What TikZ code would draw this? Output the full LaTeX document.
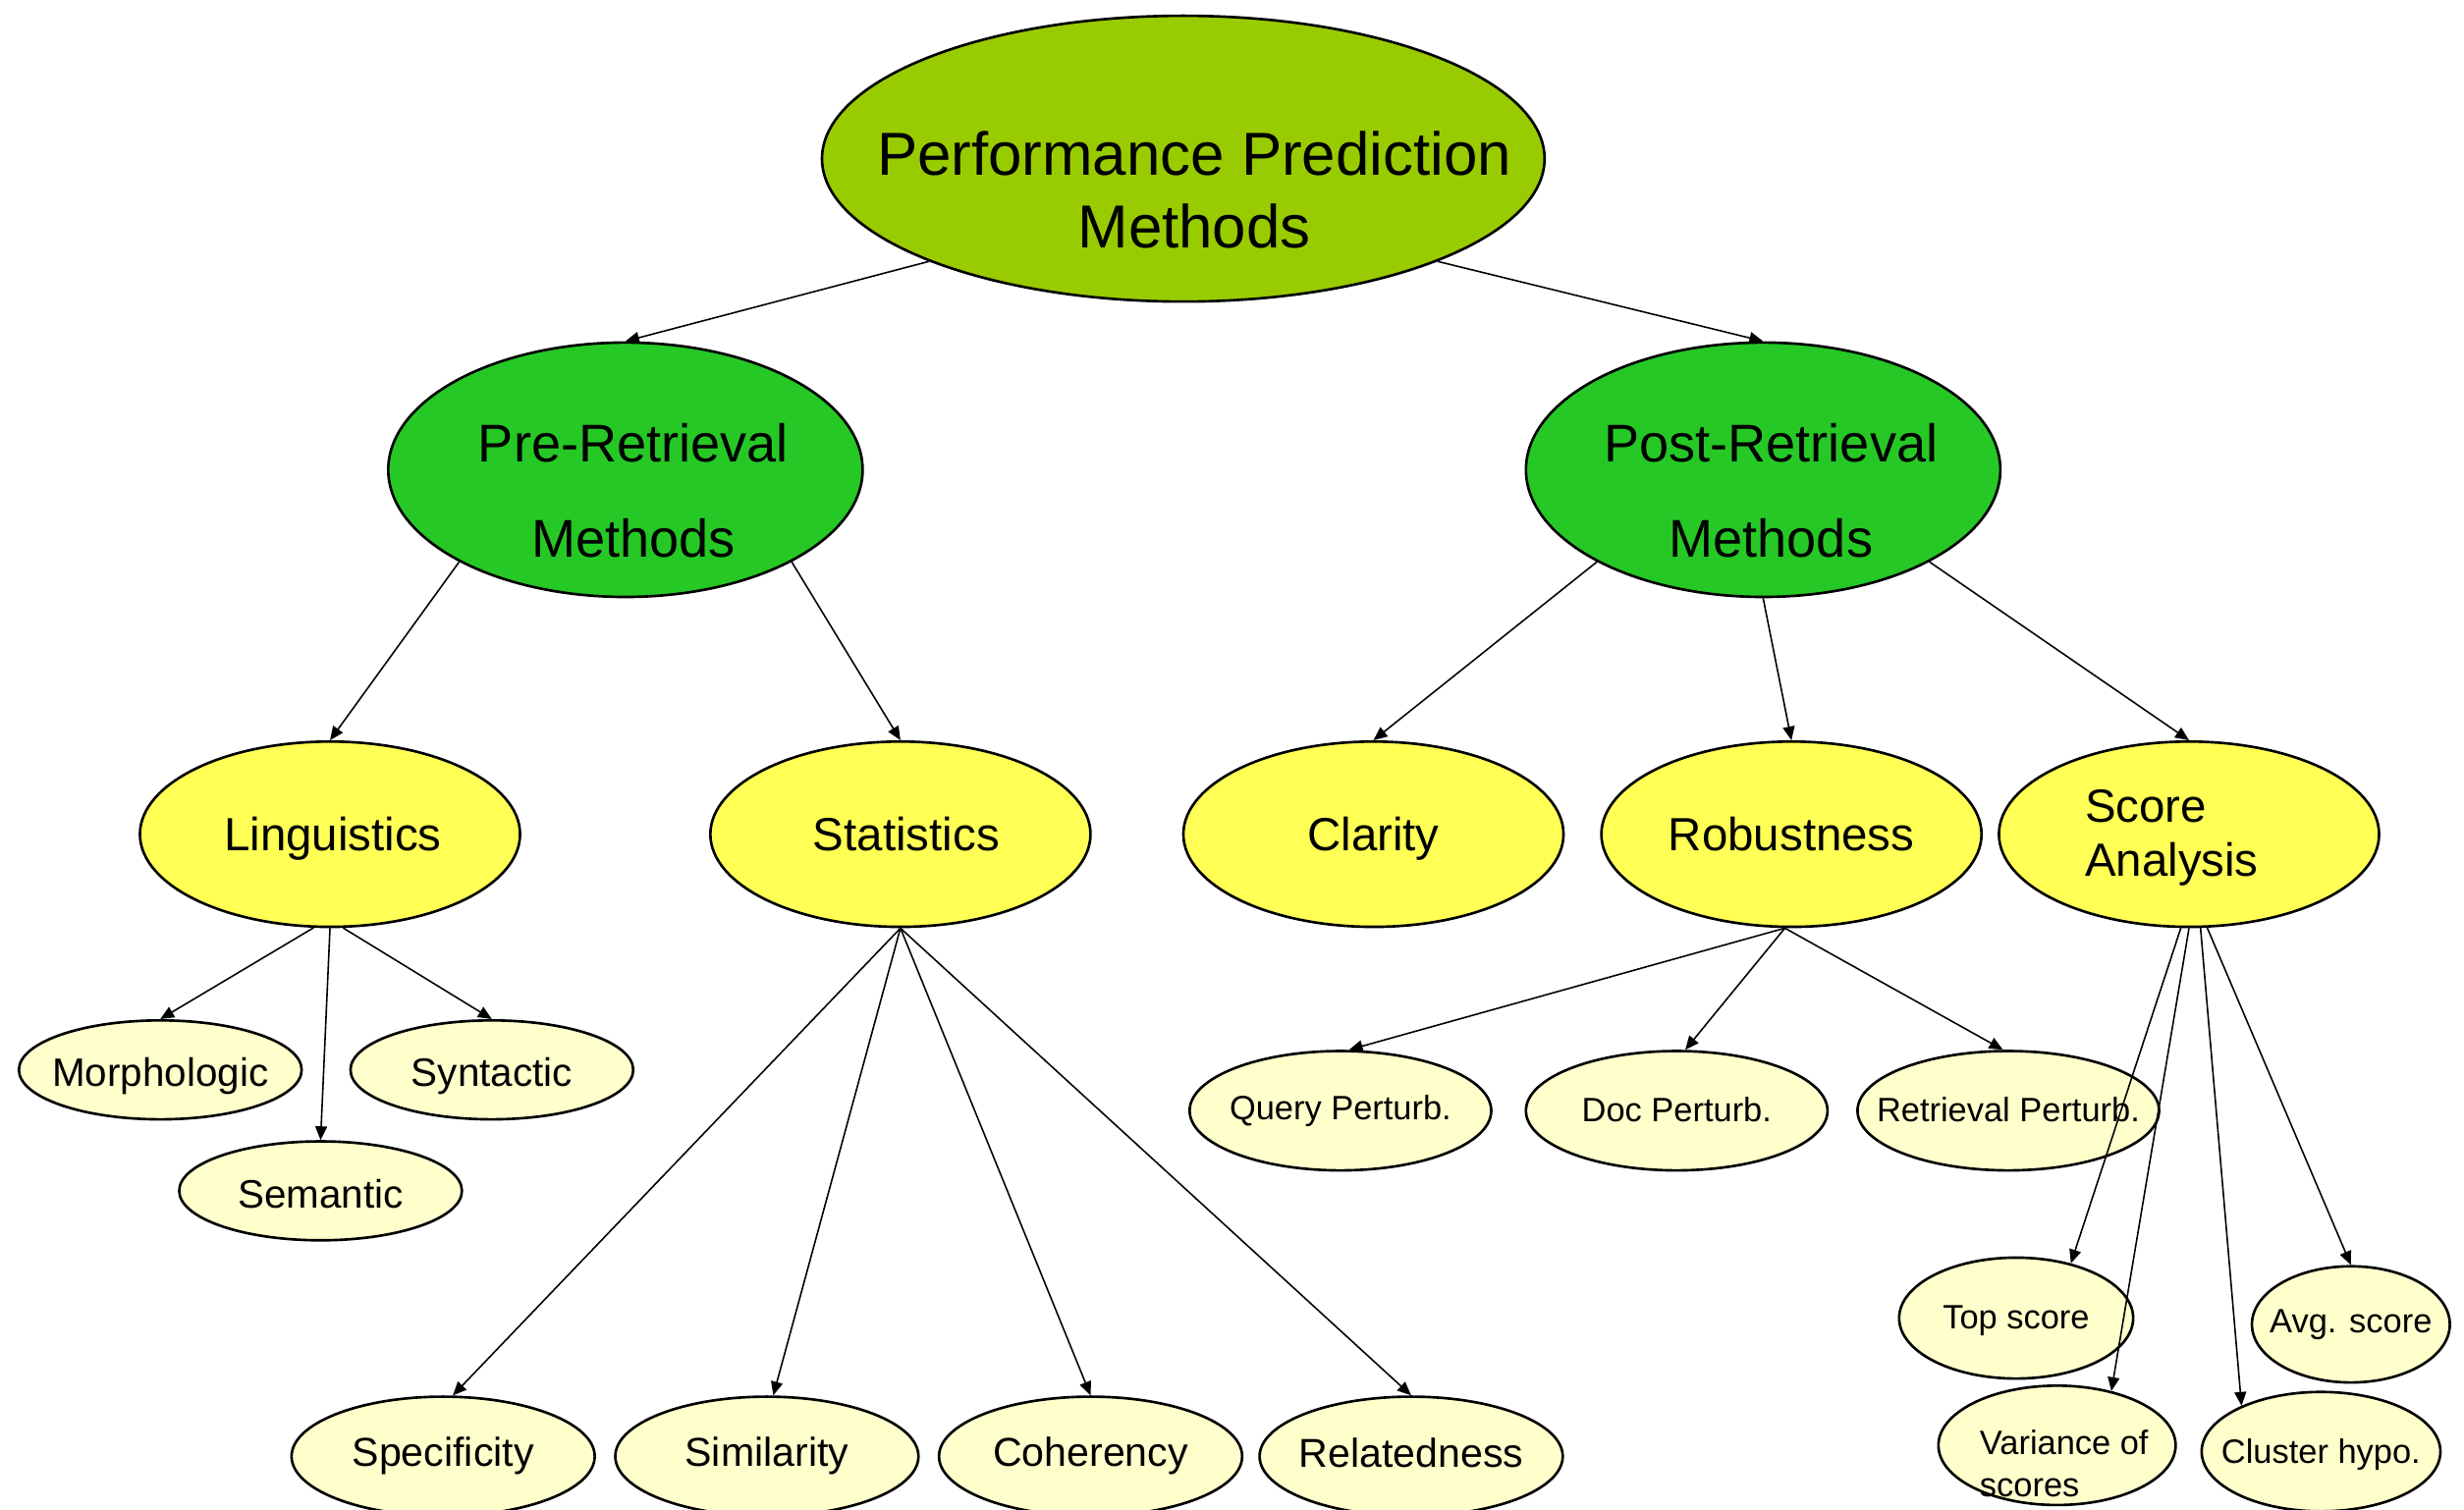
\documentclass[tikz,border=0pt]{standalone}
\usepackage{fontspec}
\setmainfont{Liberation Sans}
\usetikzlibrary{arrows.meta,shapes.geometric}
\definecolor{cTop}{RGB}{153,204,0}
\definecolor{cMid}{RGB}{38,200,38}
\definecolor{cYel}{RGB}{255,255,85}
\definecolor{cPale}{RGB}{255,255,204}
\begin{document}
\begin{tikzpicture}[x=0.016cm,y=-0.016cm,
  ell/.style={ellipse,draw=black,line width=0.75pt,inner sep=0pt},
  topnode/.style={ell,fill=cTop,minimum width=7.36cm,minimum height=2.912cm},
  midnode/.style={ell,fill=cMid,minimum width=4.832cm,minimum height=2.592cm},
  yelnode/.style={ell,fill=cYel,minimum width=3.872cm,minimum height=1.888cm},
  lingnode/.style={ell,fill=cPale,minimum width=2.88cm,minimum height=1.008cm},
  pertnode/.style={ell,fill=cPale,minimum width=3.072cm,minimum height=1.216cm},
  statnode/.style={ell,fill=cPale,minimum width=3.088cm,minimum height=1.216cm},
  fTop/.style={font=\fontsize{17.6}{21}\selectfont,align=center},
  fMid/.style={font=\fontsize{15.4}{27.7}\selectfont,align=center},
  fYel/.style={font=\fontsize{13.5}{15.5}\selectfont,align=left},
  fLing/.style={font=\fontsize{11.5}{13}\selectfont},
  fStat/.style={font=\fontsize{11.7}{13}\selectfont},
  fSmall/.style={font=\fontsize{9.8}{12.3}\selectfont,align=left},
  arr/.style={draw=black,line width=0.45pt,-{Triangle[length=1.4mm,width=1.2mm]}}
]
\useasboundingbox (0,0) rectangle (1568,961);

% level 0
\node[topnode,label={[fTop,xshift=0.112cm,yshift=-0.32cm]center:Performance Prediction\\Methods}] (top) at (753,101) {};
% level 1
\node[midnode,label={[fMid,xshift=0.08cm,yshift=-0.21cm]center:Pre-Retrieval\\Methods}] (pre) at (398,299) {};
\node[midnode,label={[fMid,xshift=0.08cm,yshift=-0.21cm]center:Post-Retrieval\\Methods}] (post) at (1122,299) {};
% level 2
\node[yelnode,label={[fYel,xshift=0.03cm,yshift=-0.048cm]center:Linguistics}] (ling) at (210,531) {};
\node[yelnode,label={[fYel,xshift=0.06cm]center:Statistics}] (stat) at (573,531) {};
\node[yelnode,label={[fYel,yshift=-0.048cm]center:Clarity}] (clar) at (874,531) {};
\node[yelnode,label={[fYel]center:Robustness}] (rob) at (1140,531) {};
\node[yelnode,label={[fYel,xshift=-0.176cm,yshift=-0.035cm]center:Score\\Analysis}] (score) at (1393,531) {};
% linguistics children
\node[lingnode,label={[fLing,yshift=-0.06cm]center:Morphologic}] (morph) at (102,681) {};
\node[lingnode,label={[fLing,yshift=-0.06cm]center:Syntactic}] (synt) at (313,681) {};
\node[lingnode,label={[fLing,yshift=-0.03cm]center:Semantic}] (sem) at (204,758) {};
% statistics children
\node[statnode,label={[fStat]center:Specificity}] (spec) at (282,927) {};
\node[statnode,label={[fStat]center:Similarity}] (simi) at (488,927) {};
\node[statnode,label={[fStat]center:Coherency}] (coh) at (694,927) {};
\node[statnode,label={[fStat,yshift=0.032cm]center:Relatedness}] (rel) at (898,927) {};
% robustness children
\node[pertnode,label={[fSmall]center:Query Perturb.}] (qp) at (853,707) {};
\node[pertnode,label={[fSmall,yshift=0.016cm]center:Doc Perturb.}] (dp) at (1067,707) {};
\node[pertnode,label={[fSmall,yshift=0.016cm]center:Retrieval Perturb.}] (rp) at (1278,707) {};
% score children
\node[ell,fill=cPale,minimum width=2.384cm,minimum height=1.232cm,label={[fSmall,yshift=-0.03cm]center:Top score}] (tops) at (1283,839) {};
\node[ell,fill=cPale,minimum width=2.016cm,minimum height=1.184cm,label={[fSmall]center:Avg. score}] (avgs) at (1496,843) {};
\node[ell,fill=cPale,minimum width=2.416cm,minimum height=1.216cm,label={[fSmall,xshift=0.072cm,yshift=-0.184cm]center:Variance of\\scores}] (vars) at (1309,920) {};
\node[ell,fill=cPale,minimum width=2.432cm,minimum height=1.216cm,label={[fSmall,yshift=-0.03cm]center:Cluster hypo.}] (clus) at (1477,924) {};

% connectors
\draw[arr] (top.202) -- (pre.north);
\draw[arr] (top.338) -- (post.north);
\draw[arr] (pre.209) -- (ling.north);
\draw[arr] (pre.331) -- (stat.north);
\draw[arr] (post.209) -- (clar.north);
\draw[arr] (post.south) -- (rob.north);
\draw[arr] (post.331) -- (score.north);
\draw[arr] (ling.260) -- (morph.north);
\draw[arr] (ling.south) -- (sem.north);
\draw[arr] (ling.278) -- (synt.north);
\draw[arr] (stat.south) -- (spec.81);
\draw[arr] (stat.south) -- (simi.84);
\draw[arr] (stat.south) -- (coh.north);
\draw[arr] (stat.south) -- (rel.north);
\draw[arr] (rob.266) -- (qp.82);
\draw[arr] (rob.266) -- (dp.82);
\draw[arr] (rob.266) -- (rp.95);
\draw[arr] (score.265) -- (tops.45);
\draw[arr] (score.270) -- (vars.45);
\draw[arr] (score.277) -- (clus.150);
\draw[arr] (score.281) -- (avgs.north);
\end{tikzpicture}
\end{document}
